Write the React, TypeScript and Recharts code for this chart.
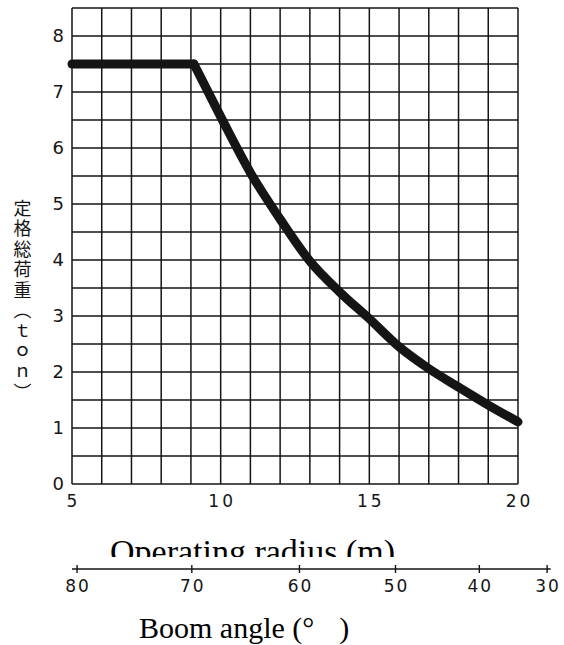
import { LineChart, Line, XAxis, YAxis, ReferenceLine } from "recharts";

const RADIUS = [5, 9.1, 10, 11, 12, 13, 14, 15, 16, 17, 18, 19, 20];
const LOAD = [7.5, 7.5, 6.56, 5.56, 4.73, 3.98, 3.43, 2.95, 2.45, 2.06, 1.73, 1.41, 1.11];
const KNEE_INDEX = 1; // flat up to here, falling after

const RADIUS_TICKS = [5, 10, 15, 20];
const LOAD_TICKS = [0, 1, 2, 3, 4, 5, 6, 7, 8];
const GRID_X = [5, 6, 7, 8, 9, 10, 11, 12, 13, 14, 15, 16, 17, 18, 19, 20];
const GRID_Y = [0, 0.5, 1, 1.5, 2, 2.5, 3, 3.5, 4, 4.5, 5, 5.5, 6, 6.5, 7, 7.5, 8, 8.5];

// boom angle scale under the radius axis, placed at the radius each angle gives
const BOOM_ANGLES = [80, 70, 60, 50, 40, 30];
const BOOM_RADII = [5.17, 9.03, 12.65, 15.88, 18.7, 20.98];

const data = RADIUS.map((r, i) => ({
  radius: r,
  flat: i <= KNEE_INDEX ? LOAD[i] : null,
  fall: i >= KNEE_INDEX ? LOAD[i] : null,
}));

const INK = "#151515";
const DIGIT_FONT = "DejaVu Sans";
const X_DOMAIN = [5, 21.1];

function YTitle({ viewBox }: any) {
  return (
    <text
      x={viewBox.x + 22.5}
      y={199}
      fill={INK}
      fontSize={18}
      fontFamily="Noto Sans CJK JP"
      letterSpacing={2.5}
      style={{ writingMode: "vertical-rl", textOrientation: "upright" }}
    >
      定格総荷重（ｔｏｎ）
    </text>
  );
}

function RadiusTitle({ viewBox }: any) {
  return (
    <g>
      <defs>
        <clipPath id="radius-title-clip">
          <rect x={0} y={viewBox.y} width={564} height={73} />
        </clipPath>
      </defs>
      <text
        x={viewBox.x + 38}
        y={viewBox.y + 79}
        fill="#000"
        fontSize={34}
        fontFamily="Liberation Serif"
        clipPath="url(#radius-title-clip)"
      >
        Operating radius (m)
      </text>
    </g>
  );
}

function AngleTitle({ viewBox }: any) {
  return (
    <text x={viewBox.x + 67} y={viewBox.y + 69} fill="#000" fontSize={30} fontFamily="Liberation Serif">
      {"Boom angle (°\u2002\u2004)"}
    </text>
  );
}

function AngleTick({ x, y, payload, index }: any) {
  const i = BOOM_RADII.indexOf(payload.value);
  return (
    <g>
      <line x1={x} x2={x} y1={y - 4} y2={y + 4} stroke={INK} strokeWidth={1.4} />
      <text
        x={x + 1}
        y={y + 23}
        textAnchor="middle"
        fill={INK}
        fontSize={17}
        fontFamily={DIGIT_FONT}
        letterSpacing={2}
      >
        {BOOM_ANGLES[i >= 0 ? i : index]}
      </text>
    </g>
  );
}

export default function App() {
  return (
    <div style={{ position: "absolute", left: 0, top: 0, width: 564, height: 645 }}>
      <LineChart
        width={564}
        height={645}
        data={data}
        margin={{ top: 8, right: 13.3, left: 0, bottom: 0 }}
      >
        {GRID_X.map((gx) => (
          <ReferenceLine
            key={`gx-${gx}`}
            segment={[
              { x: gx, y: 0 },
              { x: gx, y: 8.5 },
            ]}
            stroke={INK}
            strokeWidth={1.5}
          />
        ))}
        {GRID_Y.map((gy) => (
          <ReferenceLine
            key={`gy-${gy}`}
            segment={[
              { x: 5, y: gy },
              { x: 20, y: gy },
            ]}
            stroke={INK}
            strokeWidth={1.5}
          />
        ))}
        <XAxis
          dataKey="radius"
          type="number"
          domain={X_DOMAIN}
          ticks={RADIUS_TICKS}
          interval={0}
          axisLine={false}
          tickLine={false}
          tickMargin={5}
          height={85}
          tick={{ fill: INK, fontSize: 17, fontFamily: DIGIT_FONT, letterSpacing: 3, dx: 1.5 }}
          label={<RadiusTitle />}
        />
        <XAxis
          xAxisId="angle"
          dataKey="radius"
          type="number"
          domain={X_DOMAIN}
          ticks={BOOM_RADII}
          interval={0}
          axisLine={{ stroke: INK, strokeWidth: 1.4 }}
          tickLine={false}
          tickSize={0}
          tickMargin={0}
          height={76}
          tick={<AngleTick />}
          label={<AngleTitle />}
        />
        <YAxis
          type="number"
          domain={[0, 8.5]}
          ticks={LOAD_TICKS}
          interval={0}
          axisLine={false}
          tickLine={false}
          width={72}
          tick={{ fill: INK, fontSize: 18, fontFamily: DIGIT_FONT }}
          label={<YTitle />}
        />
        <Line
          dataKey="flat"
          type="linear"
          stroke={INK}
          strokeWidth={9}
          strokeLinecap="round"
          strokeLinejoin="round"
          dot={false}
          isAnimationActive={false}
        />
        <Line
          xAxisId="angle"
          dataKey="fall"
          type="monotone"
          stroke={INK}
          strokeWidth={9}
          strokeLinecap="round"
          strokeLinejoin="round"
          dot={false}
          isAnimationActive={false}
        />
      </LineChart>
    </div>
  );
}
